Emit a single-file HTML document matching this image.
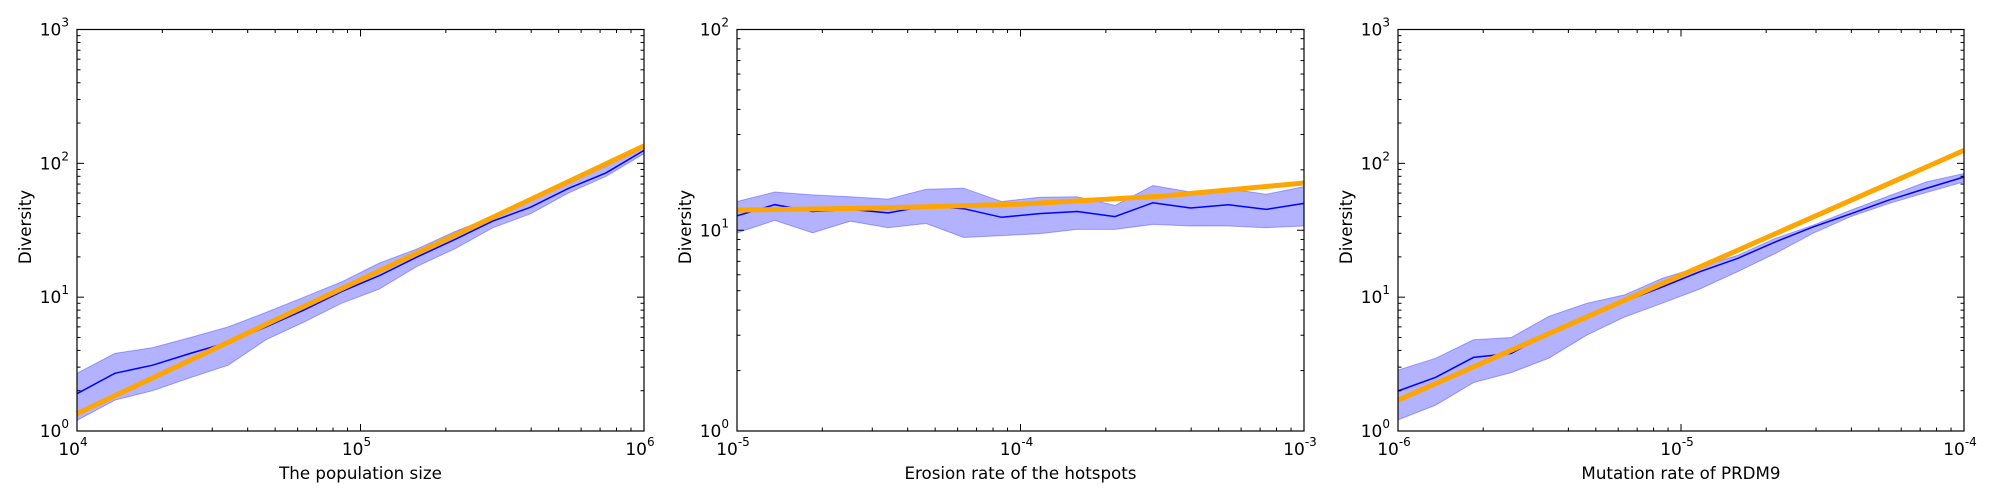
<!DOCTYPE html>
<html><head><meta charset="utf-8"><style>
html,body{margin:0;padding:0;background:#fff}
svg{display:block;font-family:"DejaVu Sans","Liberation Sans",sans-serif}
</style></head><body>
<svg id="fig" width="2000" height="500" viewBox="0 0 2000 500"></svg>
<script>
const xExp1=[4,6], yExp1=[0,3];
const mean1=[1.9,2.7,3.1,3.8,4.6,6.0,8.0,11,14.5,20,27,37,47,65,85,125];
const upper1=[2.7,3.8,4.2,5.0,6.0,7.7,10,13,18,23,31,40,55,72,95,135];
const lower1=[1.2,1.7,2.0,2.5,3.1,4.8,6.5,9,11.5,17,23,33,42,60,80,118];
const theoryX1=[1e4,1e6], theoryY1=[1.35,135];

const xExp2=[-5,-3], yExp2=[0,2];
const mean2=[11.8,13.4,12.4,12.7,12.2,13.2,12.8,11.6,12.1,12.4,11.7,13.7,12.9,13.4,12.7,13.6];
const upper2=[13.9,15.5,15,14.7,14.3,16,16.2,13.9,14.6,14.7,13.3,16.7,15.5,16.1,15.1,16.5];
const lower2=[9.7,11.2,9.7,11.1,10.3,10.8,9.2,9.4,9.6,10.1,10.1,10.7,10.5,10.5,10.3,10.5];
const theoryX2=[1e-5,3.16e-5,1e-4,3.16e-4,1e-3], theoryY2=[12.6,12.9,13.5,14.8,17.2];

const xExp3=[-6,-4], yExp3=[0,3];
const mean3=[1.99,2.52,3.55,3.8,5.4,7.0,9.3,11.9,15.5,19.5,25.9,33.5,42,53,65,79];
const upper3=[2.85,3.5,4.8,5.0,7.2,9.0,10.4,13.8,16.9,20.5,27.5,34.5,44.7,57,72.7,84];
const lower3=[1.21,1.56,2.3,2.73,3.5,5.2,7.1,9.0,11.5,15.5,21.2,30,40,50,60.5,72.7];
const theoryX3=[1e-6,1e-4], theoryY3=[1.7,125];

const xlabels=["The population size","Erosion rate of the hotspots","Mutation rate of PRDM9"];
const NS="http://www.w3.org/2000/svg";
const svg=document.getElementById('fig');
function mk(tag,attrs,parent){const e=document.createElementNS(NS,tag);for(const k in attrs)e.setAttribute(k,attrs[k]);(parent||svg).appendChild(e);return e;}

const panels=[
 {L:77,R:644,xe:xExp1,ye:yExp1,m:mean1,u:upper1,l:lower1,tx:theoryX1,ty:theoryY1,yl:36},
 {L:737,R:1304,xe:xExp2,ye:yExp2,m:mean2,u:upper2,l:lower2,tx:theoryX2,ty:theoryY2,yl:696},
 {L:1398,R:1964,xe:xExp3,ye:yExp3,m:mean3,u:upper3,l:lower3,tx:theoryX3,ty:theoryY3,yl:1357}
];
const T=29.5,B=431;
panels.forEach((p,pi)=>{
 const g=mk('g',{});
 
 
 const sx=v=>p.L+(Math.log10(v)-p.xe[0])/(p.xe[1]-p.xe[0])*(p.R-p.L);
 const sy=v=>B-(Math.log10(v)-p.ye[0])/(p.ye[1]-p.ye[0])*(B-T);
 const n=p.m.length;
 const xs=p.m.map((_,i)=>Math.pow(10,p.xe[0]+i*(p.xe[1]-p.xe[0])/(n-1)));
 let d='M'+xs.map((x,i)=>sx(x).toFixed(1)+','+sy(p.u[i]).toFixed(1)).join('L');
 for(let i=n-1;i>=0;i--)d+='L'+sx(xs[i]).toFixed(1)+','+sy(p.l[i]).toFixed(1);
 const band=mk('path',{d:d+'Z',fill:'#0000ff','fill-opacity':0.3,stroke:'#0000ff','stroke-opacity':0.3,'stroke-width':1},g);
 
 
 const ml=mk('path',{d:'M'+xs.map((x,i)=>sx(x).toFixed(1)+','+sy(p.m[i]).toFixed(1)).join('L'),fill:'none',stroke:'#0000ff','stroke-width':1.5},g);
 
 
 const tl=mk('path',{d:'M'+p.tx.map((x,i)=>sx(x).toFixed(1)+','+sy(p.ty[i]).toFixed(1)).join('L'),fill:'none',stroke:'#ffa500','stroke-width':5},g);
 
 
 mk('rect',{x:p.L,y:T,width:p.R-p.L,height:B-T,fill:'none',stroke:'#000','stroke-width':1.2},g);
 for(let e=p.xe[0];e<=p.xe[1];e++){
  for(let k=1;k<=9;k++){
   if(e==p.xe[1]&&k>1)break;
   const x=sx(k*Math.pow(10,e)), len=k==1?7:3.5;
   mk('line',{x1:x,x2:x,y1:B,y2:B-len,stroke:'#000','stroke-width':1},g);
   mk('line',{x1:x,x2:x,y1:T,y2:T+len,stroke:'#000','stroke-width':1},g);
  }
  const t=mk('text',{x:sx(Math.pow(10,e))-4,y:455,'text-anchor':'middle','font-size':17},g);
  
  
  t.innerHTML='10<tspan dy="-9" font-size="12">'+e+'</tspan>';
 }
 for(let e=p.ye[0];e<=p.ye[1];e++){
  for(let k=1;k<=9;k++){
   if(e==p.ye[1]&&k>1)break;
   const y=sy(k*Math.pow(10,e)), len=k==1?7:3.5;
   mk('line',{x1:p.L,x2:p.L+len,y1:y,y2:y,stroke:'#000','stroke-width':1},g);
   mk('line',{x1:p.R,x2:p.R-len,y1:y,y2:y,stroke:'#000','stroke-width':1},g);
  }
  const t=mk('text',{x:p.L-8,y:sy(Math.pow(10,e))+6,'text-anchor':'end','font-size':17},g);
  
  
  t.innerHTML='10<tspan dy="-9" font-size="12">'+e+'</tspan>';
 }
 const xl=mk('text',{x:(p.L+p.R)/2,y:479,'text-anchor':'middle','font-size':16.7},g);
 
 
 xl.textContent=xlabels[pi];
 const yl=mk('text',{x:p.yl,y:232,'text-anchor':'middle','font-size':16.7,transform:'rotate(-90 '+(p.yl-5)+' 232)'},g);
 
 
 yl.textContent='Diversity';
});
</script>
</body></html>
